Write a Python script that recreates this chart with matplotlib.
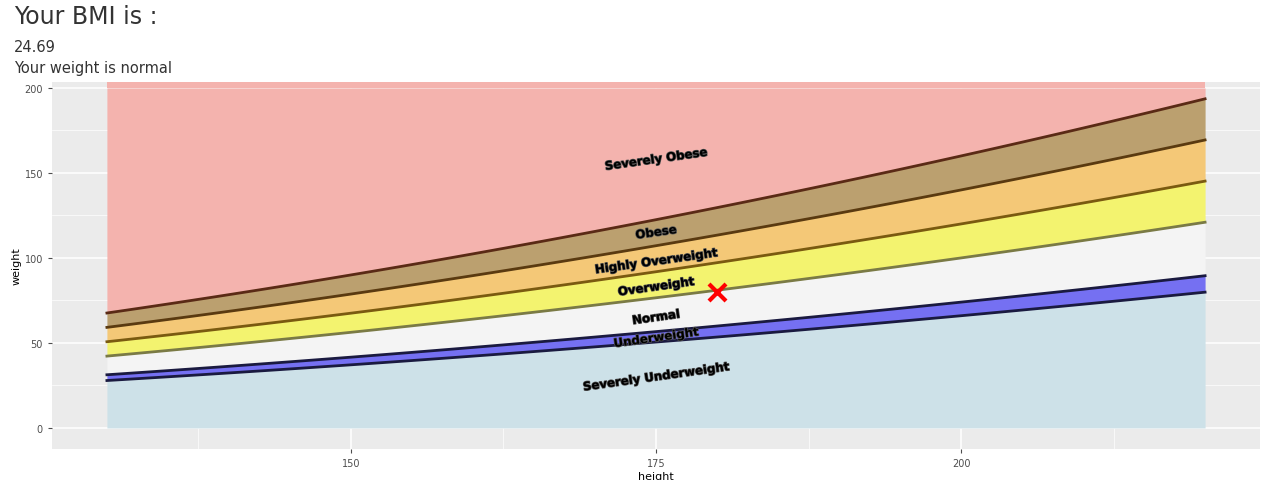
import numpy as np
import matplotlib.pyplot as plt
import matplotlib.patheffects as pe

# heights (cm) and BMI class boundaries
heights = np.arange(130, 221, 1)
bmi_bounds = [16.5, 18.5, 25, 30, 35, 40]
fill_colors = ['#cde1e8', '#7570f2', '#f4f4f4', '#f3f36f', '#f4c877', '#bba06f', '#f4b3ae']
line_colors = ['#1a1a40', '#1a1a40', '#7a7a45', '#7a5a10', '#5a3a10', '#5a2a15']
labels = ['Severely Underweight', 'Underweight', 'Normal', 'Overweight',
          'Highly Overweight', 'Obese', 'Severely Obese']
label_y = [30, 53, 65, 83, 98, 115, 158]
user_height, user_weight = 180, 80
bmi_value = '24.69'

fig = plt.figure(figsize=(12.68, 4.81), dpi=100)
ax = fig.add_axes([52/1268, 31/481, 1208/1268, 367/481])
ax.set_facecolor('#ebebeb')

curves = [b * (heights / 100) ** 2 for b in bmi_bounds]
lower = np.zeros_like(heights, dtype=float)
for i, c in enumerate(curves):
    ax.fill_between(heights, lower, c, color=fill_colors[i], lw=0, zorder=2)
    lower = c
ax.fill_between(heights, lower, 200 + 0 * heights, color=fill_colors[-1], lw=0, zorder=2)
ax.fill_between(heights, 200, 210, color=fill_colors[-1], lw=0, zorder=2)
for c, lc in zip(curves, line_colors):
    ax.plot(heights, c, color=lc, lw=2, zorder=3)

for lab, y in zip(labels, label_y):
    ax.text(175, y, lab, rotation=8, ha='center', va='center', fontsize=8.5,
            fontweight='bold', color='black', zorder=5,
            path_effects=[pe.withStroke(linewidth=1, foreground='#555555')])

ax.scatter([user_height], [user_weight], marker='x', s=150, color='red',
           linewidths=3, zorder=6)

ax.set_xlim(125.5, 224.5)
ax.set_ylim(-12.4, 203.5)
ax.set_xticks([150, 175, 200])
ax.set_yticks([0, 50, 100, 150, 200])
ax.set_xticks([137.5, 162.5, 187.5, 212.5], minor=True)
ax.set_yticks([25, 75, 125, 175], minor=True)
ax.grid(which='major', color='white', lw=1.1, zorder=1)
ax.grid(which='minor', color='white', lw=0.5, zorder=1)
ax.set_axisbelow(True)
for s in ax.spines.values():
    s.set_visible(False)
ax.tick_params(which='major', labelsize=7, colors='#4d4d4d', length=3)
ax.tick_params(which='minor', length=0)
ax.set_xlabel('height', fontsize=8, labelpad=2)
ax.set_ylabel('weight', fontsize=8, labelpad=2)

fig.text(14/1268, 1 - 17/481, 'Your BMI is :', fontsize=17, color='#333333', va='center')
fig.text(14/1268, 1 - 47/481, bmi_value, fontsize=10.5, color='#333333', va='center')
fig.text(14/1268, 1 - 68/481, 'Your weight is normal', fontsize=10.5, color='#333333', va='center')

fig.savefig('out.png', dpi=100)
